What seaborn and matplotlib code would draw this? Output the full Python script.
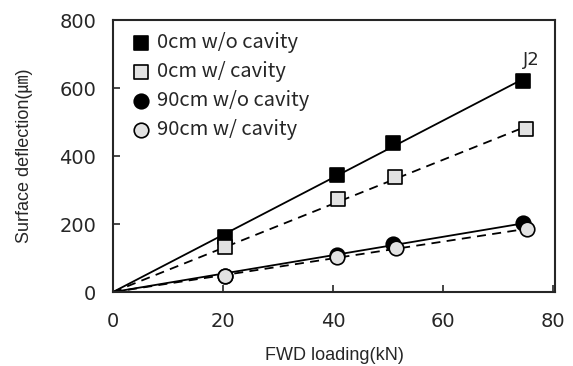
import numpy as np
import pandas as pd
import matplotlib
matplotlib.use('Agg')
import matplotlib.pyplot as plt
import seaborn as sns

# values
load_0_wo = [20.4, 40.7, 50.9, 74.5]
defl_0_wo = [162, 344, 438, 621]
load_0_w = [20.4, 41.0, 51.3, 75.1]
defl_0_w = [132, 274, 338, 479]
load_90_wo = [20.4, 40.7, 50.9, 74.5]
defl_90_wo = [48, 108, 141, 203]
load_90_w = [20.4, 40.7, 51.5, 75.3]
defl_90_w = [47, 103, 129, 185]

series_names = ['0cm w/o cavity', '0cm w/ cavity', '90cm w/o cavity', '90cm w/ cavity']
x_ticks = [0, 20, 40, 60, 80]
y_ticks = [0, 200, 400, 600, 800]

sns.set_style('ticks')
plt.rcParams['font.family'] = ['DejaVu Sans', 'Noto Sans CJK KR']

fig = plt.figure(figsize=(5.73, 3.66), dpi=100)
ax = fig.add_axes([0.197, 0.202, 0.772, 0.743])

series = [
    (load_0_wo, defl_0_wo, 's', 'black', '-'),
    (load_0_w, defl_0_w, 's', '#e2e2e2', '--'),
    (load_90_wo, defl_90_wo, 'o', 'black', '-'),
    (load_90_w, defl_90_w, 'o', '#e2e2e2', '--'),
]

# trend lines through the origin
for xs, ys, mk, fc, ls in series:
    xs = np.array(xs); ys = np.array(ys)
    slope = (xs * ys).sum() / (xs * xs).sum()
    fit = pd.DataFrame({'x': [0, xs.max()], 'y': [0, slope * xs.max()]})
    sns.lineplot(data=fit, x='x', y='y', ax=ax, color='black', lw=1.3, legend=False)
    if ls == '--':
        ax.lines[-1].set_dashes([5, 3.5])

for (xs, ys, mk, fc, ls), name in zip(series, series_names):
    sns.scatterplot(x=xs, y=ys, ax=ax, marker=mk, s=110, color=fc,
                    edgecolor='black', linewidth=1.2, label=name, zorder=3)

ax.set_xlim(0, 80.4)
ax.set_ylim(0, 800)
ax.set_xticks(x_ticks)
ax.set_yticks(y_ticks)
ax.tick_params(direction='in', length=5, width=1.2, labelsize=14)
ax.tick_params(axis='x', pad=14)
ax.tick_params(axis='y', pad=12)
for s in ax.spines.values():
    s.set_linewidth(1.5)
    s.set_visible(True)

lab_font = ['Liberation Sans', 'Noto Sans CJK KR']
ax.set_xlabel('FWD loading(kN)', fontsize=13, family=lab_font, labelpad=12)
ax.set_ylabel('Surface deflection(㎛)', fontsize=13, family=lab_font, labelpad=19)
ax.text(76, 682, 'J2', fontsize=13, ha='center', va='center')

leg = ax.legend(loc='upper left', frameon=False, handletextpad=0.0, handlelength=1.6,
                labelspacing=0.4, borderaxespad=0.2, bbox_to_anchor=(0.0, 1.0),
                prop={'family': ['Noto Sans CJK KR', 'DejaVu Sans'], 'size': 14.5})

fig.savefig('out.png', dpi=100)
